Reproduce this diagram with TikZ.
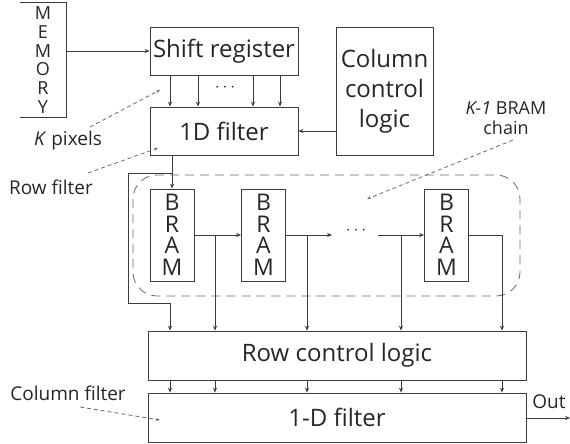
\documentclass[tikz,border=0pt]{standalone}
\usepackage{fontspec}
\setmainfont{Open Sans}
\usetikzlibrary{arrows.meta}
\definecolor{linegray}{HTML}{3C3C3C}
\definecolor{dashgray}{HTML}{6A6A6A}
\tikzset{
  blk/.style={draw=linegray, inner sep=0pt, align=center, text=black!85,
    font=\fontsize{24}{30}\selectfont},
  bram/.style={blk, minimum width=44pt, minimum height=92pt,
    font=\fontsize{23}{21.5}\selectfont},
  lbl/.style={inner sep=0pt, align=center, text=black!85,
    font=\fontsize{19}{20}\selectfont},
  wire/.style={draw=linegray, -{Stealth[length=5pt,width=4pt]}},
  note/.style={draw=dashgray, dashed, dash pattern=on 4pt off 3pt,
    -{Stealth[length=4pt,width=3pt]}}
}
\begin{document}
\begin{tikzpicture}[x=1pt, y=-1pt, line width=0.8pt]
\useasboundingbox (0,0) rectangle (570,444);
% blocks
\node[blk, draw=none, minimum width=46pt, minimum height=114pt,
  font=\fontsize{18}{18.8}\selectfont] (mem) at (43,60) {M\\E\\M\\O\\R\\Y};
\draw[linegray] (mem.north west) -- (mem.north east) -- (mem.south east) -- (mem.south west);
\node[blk, minimum width=148pt, minimum height=48pt] (shift) at (224,51) {Shift register};
\node[blk, minimum width=148pt, minimum height=48pt] (filt) at (224,131) {1D filter};
\node[blk, minimum width=97pt, minimum height=128pt] (col) at (384.5,91) {Column\\control\\logic};
\draw[dashgray, dashed, dash pattern=on 9pt off 6pt, rounded corners=24pt] (133,175) rectangle (520,296);
\node[bram] (bram1) at (172,235) {B\\R\\A\\M};
\node[bram] (bram2) at (263.5,235) {B\\R\\A\\M};
\node[bram] (bram3) at (446.5,235) {B\\R\\A\\M};
\node[blk, minimum width=378pt, minimum height=49pt] (rowctl) at (337,355.5) {Row control logic};
\node[blk, minimum width=378pt, minimum height=49pt] (colfilt) at (337,417.5) {1-D filter};
% wires
\draw[wire] (shift.west -| mem.east) -- (shift.west);
\foreach \dx in {-54,-26,29,56}
  \draw[wire] ([xshift=\dx pt]shift.south) -- ([xshift=\dx pt]filt.north);
\node[lbl] (sdots) at (225,88) {$\cdots$};
\draw[wire] (col.west |- filt.east) -- (filt.east);
\draw[wire] (filt.south -| bram1.north) -- (bram1.north);
\coordinate (byp) at (128,303);
\draw[wire] (bram1.north |- 0,173) -- (byp |- 0,173) -- (byp) -| ([xshift=-167pt]rowctl.north);
\draw[wire] (bram1.east) -- (bram2.west);
\coordinate (cend) at (332,235);
\coordinate (cstart) at (378,235);
\draw[wire] (bram2.east) -- (cend);
\node[lbl] (cdots) at (356,231) {$\cdots$};
\draw[wire] (cstart) -- (bram3.west);
\coordinate (cout) at (502,235);
\draw[linegray] (bram3.east) -- (cout);
\foreach \xx in {215,307,401,502}
  \draw[wire] (\xx,235) -- (\xx,0 |- rowctl.north);
\foreach \xx in {170,215,307,401,502}
  \draw[wire] (\xx,0 |- rowctl.south) -- (\xx,0 |- colfilt.north);
\coordinate (outend) at (570,418);
\draw[wire] (colfilt.east |- outend) -- (outend);
\node[lbl] (out) at (549,402) {Out};
% notes
\node[lbl] (kpix) at (68,141) {\textit{K} pixels};
\draw[note] (90,127) -- (160,90);
\node[lbl] (rowf) at (51,187) {Row filter};
\draw[note] (88,173) -- (158,148);
\node[lbl, font=\fontsize{18}{19.5}\selectfont] (chain) at (506,118) {\textit{K-1} BRAM\\chain};
\draw[note] (513,140) -- (367,199);
\node[lbl] (colf) at (68,393) {Column filter};
\draw[note] (80,407) -- (160,420);
\end{tikzpicture}
\end{document}
